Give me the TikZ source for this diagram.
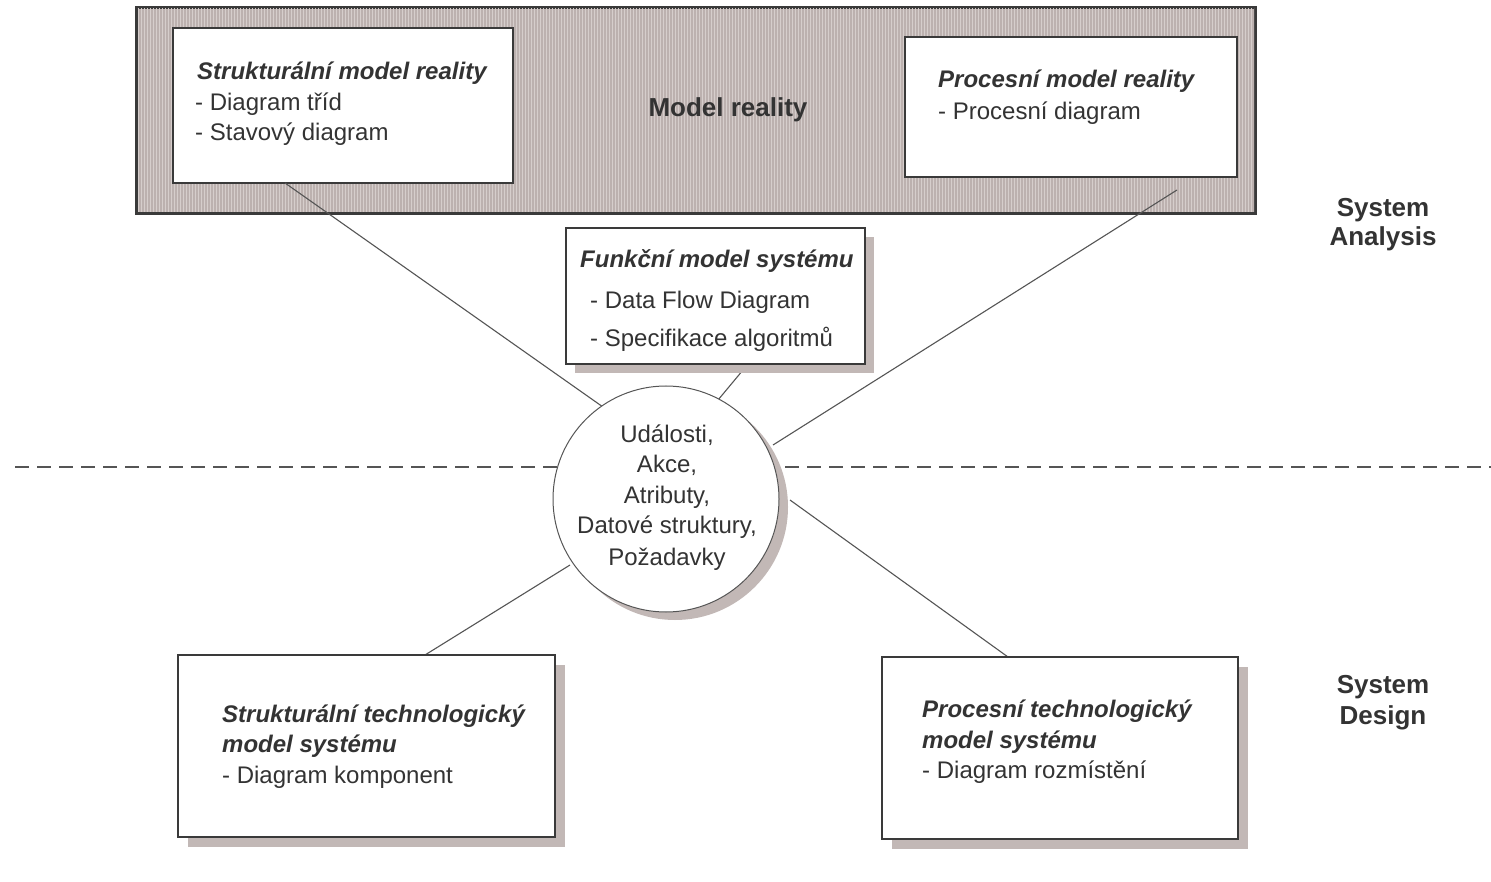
\documentclass[tikz,border=0pt]{standalone}
\usepackage{fontspec}
\setmainfont{Liberation Sans}
\usetikzlibrary{patterns,shadows}
\definecolor{txt}{HTML}{333333}
\definecolor{boxline}{HTML}{3A3A3A}
\definecolor{conncol}{HTML}{555555}
\definecolor{shadowc}{HTML}{C2B8B6}
\definecolor{bannerc}{HTML}{BCB1AF}
\definecolor{bannerl}{HTML}{D6CECC}
\begin{document}
\begin{tikzpicture}[x=1pt,y=-1pt,
  txtline/.style={anchor=base west, inner sep=0pt, text=txt, font=\fontsize{24}{30}\selectfont},
  ttl/.style={txtline, font=\fontsize{24}{30}\selectfont\bfseries\itshape},
  ctr/.style={anchor=base, inner sep=0pt, text=txt, font=\fontsize{24}{30}\selectfont},
  lbl/.style={anchor=base, inner sep=0pt, text=txt, font=\fontsize{26}{30}\selectfont\bfseries},
  boxbase/.style={rectangle, draw=boxline, line width=2pt, fill=white, inner sep=0pt, outer sep=0pt},
  shbox/.style={boxbase, drop shadow={shadow xshift=10pt, shadow yshift=-10pt, fill=shadowc, opacity=1}},
  conn/.style={draw=conncol, line width=1.1pt},
  sep/.style={draw=conncol, line width=1.5pt, dash pattern=on 14pt off 8pt}
]
\useasboundingbox (0,0) rectangle (1491,882);
\fill[white] (0,0) rectangle (1491,882);

% banner
\node[rectangle, draw=boxline, line width=1.6pt, fill=bannerc, minimum width=1118pt, minimum height=205pt, inner sep=0pt] (banner) at (696,110.5) {};
\fill[pattern=vertical lines, pattern color=bannerl] (138,9) rectangle (1254,212);
\draw[boxline, line width=1.6pt] (banner.north west) rectangle (banner.south east);

\node[boxbase, minimum width=340pt, minimum height=155pt] (box1) at (343,105.5) {};
\node[boxbase, minimum width=332pt, minimum height=140pt] (box2) at (1071,107) {};

% connector coordinates
\coordinate (l1a) at (285,183);
\coordinate (l1b) at (603,407);
\coordinate (l2a) at (1177,190);
\coordinate (l2b) at (773,445);
\coordinate (l3a) at (748,364);
\coordinate (l3b) at (718,400);
\coordinate (l4a) at (570,565);
\coordinate (l4b) at (425,655);
\coordinate (l5a) at (790,500);
\coordinate (l5b) at (1008,657);
\coordinate (dl) at (15,467);
\coordinate (dr) at (1491,467);

\draw[conn] (l1a) -- (l1b);
\draw[conn] (l2a) -- (l2b);
\draw[sep] (dl) -- (dr);
\draw[conn] (l3a) -- (l3b);
\draw[conn] (l4a) -- (l4b);
\draw[conn] (l5a) -- (l5b);

\node[boxbase, minimum width=299pt, minimum height=136pt, drop shadow={shadow xshift=9pt, shadow yshift=-9pt, fill=shadowc, opacity=1}] (fbox) at (715.5,296) {};
\node[shbox, minimum width=377pt, minimum height=182pt] (box3) at (366.5,746) {};
\node[shbox, minimum width=356pt, minimum height=182pt] (box4) at (1060,748) {};

\node[circle, draw=conncol, line width=1pt, fill=white, minimum size=226pt, inner sep=0pt, drop shadow={shadow xshift=9pt, shadow yshift=-8pt, fill=shadowc, opacity=1}] (circ) at (666,499) {};

% texts
\node[ttl] (t1a) at (197,80) {Strukturální model reality};
\node[txtline] (t1b) at (195,111) {- Diagram tříd};
\node[txtline] (t1c) at (195,141) {- Stavový diagram};

\node[lbl] (mr) at (728,117) {Model reality};

\node[ttl] (t2a) at (938,88) {Procesní model reality};
\node[txtline] (t2b) at (938,120) {- Procesní diagram};

\node[ttl] (tfa) at (580,268) {Funkční model systému};
\node[txtline] (tfb) at (590,309) {- Data Flow Diagram};
\node[txtline] (tfc) at (590,347) {- Specifikace algoritmů};

\node[ctr] (c1) at (667,442) {Události,};
\node[ctr] (c2) at (667,472) {Akce,};
\node[ctr] (c3) at (667,503) {Atributy,};
\node[ctr] (c4) at (667,533) {Datové struktury,};
\node[ctr] (c5) at (667,565) {Požadavky};

\node[ttl] (t3a) at (222,722) {Strukturální technologický};
\node[ttl] (t3b) at (222,752) {model systému};
\node[txtline] (t3c) at (222,783) {- Diagram komponent};

\node[ttl] (t4a) at (922,717) {Procesní technologický};
\node[ttl] (t4b) at (922,748) {model systému};
\node[txtline] (t4c) at (922,778) {- Diagram rozmístění};

\node[lbl] (sa1) at (1383,217) {System};
\node[lbl] (sa2) at (1383,246) {Analysis};
\node[lbl] (sd1) at (1383,693) {System};
\node[lbl] (sd2) at (1383,724) {Design};
\end{tikzpicture}
\end{document}
